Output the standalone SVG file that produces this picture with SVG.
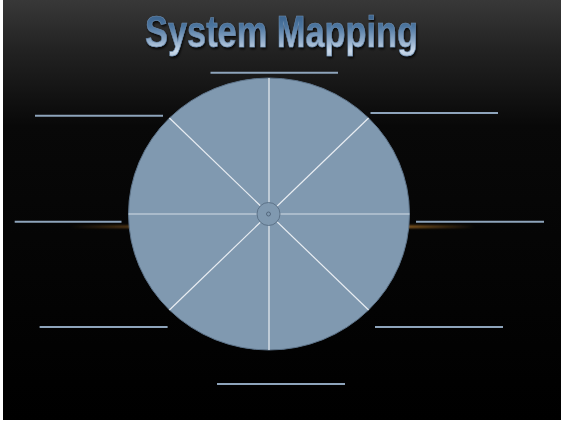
<svg xmlns="http://www.w3.org/2000/svg" width="564" height="423" viewBox="0 0 564 423">
<defs>
<linearGradient id="bg" x1="0" y1="0" x2="0" y2="1">
<stop offset="0" stop-color="#383838"/>
<stop offset="0.12" stop-color="#222222"/>
<stop offset="0.3" stop-color="#080808"/>
<stop offset="1" stop-color="#000000"/>
</linearGradient>
<linearGradient id="tt" x1="0" y1="0" x2="0" y2="1">
<stop offset="0" stop-color="#2f5680"/>
<stop offset="0.4" stop-color="#4d76a0"/>
<stop offset="0.7" stop-color="#93aecb"/>
<stop offset="0.9" stop-color="#c9d9ea"/>
<stop offset="1" stop-color="#b3c7dc"/>
</linearGradient>
<linearGradient id="glowR" x1="0" y1="0" x2="1" y2="0">
<stop offset="0" stop-color="#c8852e" stop-opacity="0.8"/>
<stop offset="1" stop-color="#c8852e" stop-opacity="0"/>
</linearGradient>
<linearGradient id="glowL" x1="1" y1="0" x2="0" y2="0">
<stop offset="0" stop-color="#c8852e" stop-opacity="0.5"/>
<stop offset="1" stop-color="#c8852e" stop-opacity="0"/>
</linearGradient>
<filter id="blur" x="-20%" y="-200%" width="140%" height="500%"><feGaussianBlur stdDeviation="1.2"/></filter>
<filter id="sh" x="-5%" y="-20%" width="110%" height="150%"><feDropShadow dx="1" dy="2" stdDeviation="1.2" flood-color="#000" flood-opacity="0.8"/></filter>
</defs>
<style>
.blank{stroke:#8ea4bb;stroke-width:2;fill:none}
.spoke{stroke:#e8edf2;stroke-width:1.2}
.title{font-family:"Liberation Sans",Arial,sans-serif;font-weight:bold;font-size:44px}
</style>
<rect x="0" y="0" width="564" height="423" fill="#ffffff"/>
<rect x="3" y="0" width="558" height="420" fill="url(#bg)"/>
<g id="glow" filter="url(#blur)">
<rect x="405" y="225.5" width="70" height="2.5" fill="url(#glowR)"/>
<rect x="70" y="225.5" width="62" height="2.5" fill="url(#glowL)"/>
</g>
<g id="title" filter="url(#sh)">
<text class="title" x="145" y="47" textLength="273" lengthAdjust="spacingAndGlyphs" fill="url(#tt)" stroke="#6f8fb2" stroke-width="0.6">System Mapping</text>
</g>
<g id="wheel">
<ellipse cx="269" cy="214" rx="140.5" ry="136" fill="#8099b0" stroke="#5d7389" stroke-width="1"/>
</g>
<g id="connectors">
<line class="spoke" x1="269" y1="78" x2="269" y2="350"/>
<line class="spoke" x1="128.5" y1="214" x2="409.5" y2="214" stroke-width="1.8" style="stroke:#d4dde6"/>
<line class="spoke" x1="169.4" y1="118" x2="368.6" y2="310"/>
<line class="spoke" x1="368.6" y1="118" x2="169.4" y2="310"/>
</g>
<g id="hub">
<circle cx="268.5" cy="214" r="11.5" fill="#8099b0" stroke="#5d7389" stroke-width="1"/>
<circle cx="268.5" cy="214" r="2" fill="none" stroke="#4f6378" stroke-width="0.9"/>
</g>
<g id="blanks">
<line id="b-top" class="blank" x1="210.5" y1="72.7" x2="338" y2="72.7"/>
<line id="b-ul" class="blank" x1="35" y1="115.7" x2="163" y2="115.7"/>
<line id="b-ur" class="blank" x1="370.5" y1="113" x2="498" y2="113"/>
<line id="b-ml" class="blank" x1="14.7" y1="221.7" x2="121.5" y2="221.7"/>
<line id="b-mr" class="blank" x1="416" y1="221.7" x2="544" y2="221.7"/>
<line id="b-ll" class="blank" x1="39.6" y1="327" x2="167.6" y2="327"/>
<line id="b-lr" class="blank" x1="375" y1="327" x2="503" y2="327"/>
<line id="b-bot" class="blank" x1="217" y1="384" x2="345" y2="384"/>
</g>
</svg>
